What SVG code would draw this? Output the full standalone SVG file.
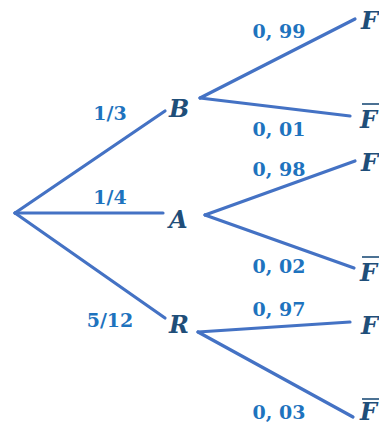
<svg xmlns="http://www.w3.org/2000/svg" width="379" height="425" viewBox="0 0 379 425">
<style>
.e{stroke:#4472C4;stroke-width:3.2;fill:none;stroke-linecap:round}
.p{font-family:"DejaVu Serif","Liberation Serif",serif;font-weight:bold;font-size:19px;fill:#1E73BE}
.n{font-family:"DejaVu Serif","Liberation Serif",serif;font-weight:bold;font-style:italic;font-size:24px;fill:#1F4E79}
.bar{stroke:#1F4E79;stroke-width:1.6}
</style>
<rect width="379" height="425" fill="#fff"/>
<g id="connectors">
<line class="e" x1="15" y1="213" x2="165" y2="111"/>
<line class="e" x1="15" y1="213" x2="163" y2="213"/>
<line class="e" x1="15" y1="213" x2="165" y2="318"/>
<line class="e" x1="200" y1="98" x2="355" y2="19"/>
<line class="e" x1="200" y1="98" x2="350" y2="116"/>
<line class="e" x1="205" y1="215" x2="355" y2="161"/>
<line class="e" x1="205" y1="215" x2="354" y2="268"/>
<line class="e" x1="198" y1="332" x2="350" y2="322"/>
<line class="e" x1="198" y1="332" x2="353" y2="417"/>
</g>
<g id="labels">
<text class="p" x="110" y="120" text-anchor="middle">1/3</text>
<text class="p" x="110" y="204" text-anchor="middle">1/4</text>
<text class="p" x="110" y="327" text-anchor="middle">5/12</text>
<text class="p" x="279" y="38" text-anchor="middle">0, 99</text>
<text class="p" x="279" y="136" text-anchor="middle">0, 01</text>
<text class="p" x="279" y="176" text-anchor="middle">0, 98</text>
<text class="p" x="279" y="273" text-anchor="middle">0, 02</text>
<text class="p" x="279" y="316" text-anchor="middle">0, 97</text>
<text class="p" x="279" y="419" text-anchor="middle">0, 03</text>
</g>
<g id="B"><text class="n" x="169" y="117">B</text></g>
<g id="A"><text class="n" x="169" y="228">A</text></g>
<g id="R"><text class="n" x="169" y="333">R</text></g>
<g id="F1"><text class="n" x="361" y="29">F</text></g>
<g id="Fbar1"><line class="bar" x1="362" y1="104" x2="379" y2="104"/><text class="n" x="360" y="128">F</text></g>
<g id="F2"><text class="n" x="361" y="171">F</text></g>
<g id="Fbar2"><line class="bar" x1="362" y1="257" x2="379" y2="257"/><text class="n" x="360" y="281">F</text></g>
<g id="F3"><text class="n" x="361" y="334">F</text></g>
<g id="Fbar3"><line class="bar" x1="362" y1="399" x2="379" y2="399"/><text class="n" x="360" y="420">F</text></g>
</svg>
